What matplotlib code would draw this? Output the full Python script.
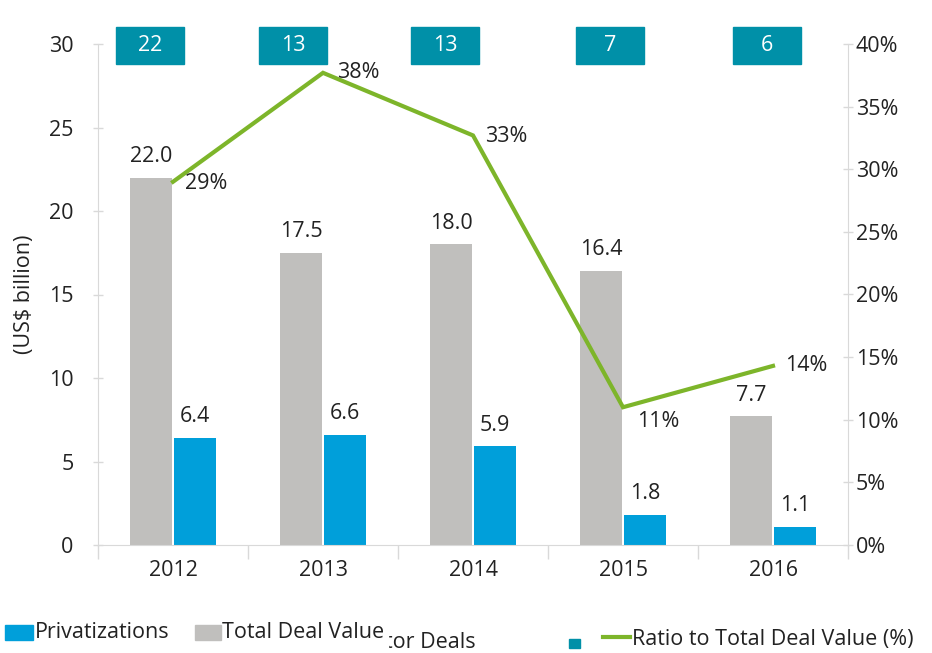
import matplotlib.pyplot as plt
from matplotlib.patches import Rectangle
from matplotlib.lines import Line2D

plt.rcParams["font.family"] = ["Open Sans", "DejaVu Sans"]

years = ["2012", "2013", "2014", "2015", "2016"]
total_value = [22.0, 17.5, 18.0, 16.4, 7.7]
privatizations = [6.4, 6.6, 5.9, 1.8, 1.1]
ratio_pct = [29.0, 37.7, 32.7, 11.0, 14.3]
deal_counts = [22, 13, 13, 7, 6]

GRAY = "#c0bfbd"
BLUE = "#009fda"
TEAL = "#0090a8"
GREEN = "#7db52a"
AXIS = "#d9d9d9"
TXT = "#222222"
FS = 15.5

fig = plt.figure(figsize=(9.32, 6.53), dpi=100)
ax = fig.add_axes([98 / 932, 1 - 545 / 653, 750 / 932, 501 / 653])
ax2 = ax.twinx()

x = list(range(len(years)))
w = 0.28
ax.bar([i - 0.145 for i in x], total_value, w, color=GRAY, zorder=2)
ax.bar([i + 0.145 for i in x], privatizations, w, color=BLUE, zorder=2)

for i in x:
	ax.text(i - 0.145, total_value[i] + 0.65, f"{total_value[i]:.1f}", ha="center", va="bottom",
			fontsize=FS, color=TXT)
	ax.text(i + 0.145, privatizations[i] + 0.65, f"{privatizations[i]:.1f}", ha="center", va="bottom",
			fontsize=FS, color=TXT)

ax.set_xlim(-0.5, 4.5)
ax.set_ylim(0, 30)
ax.set_yticks(range(0, 31, 5))
ax.set_xticks(x)
ax.set_xticklabels(years)
ax.set_xticks([i - 0.5 for i in range(6)], minor=True)
ax.tick_params(axis="x", which="major", length=0, pad=11, labelsize=FS, labelcolor=TXT)
ax.tick_params(axis="x", which="minor", length=10, direction="out", color=AXIS, width=1)
ax.tick_params(axis="y", length=7, direction="inout", color=AXIS, width=1, labelsize=FS,
			   labelcolor=TXT, pad=14)
ax.set_ylabel("(US$ billion)", fontsize=FS, color=TXT, labelpad=10)

ax2.plot(x, ratio_pct, color=GREEN, lw=3, solid_joinstyle="miter", zorder=3)
ax2.set_ylim(0, 40)
ax2.set_yticks(range(0, 41, 5))
ax2.set_yticklabels([f"{v}%" for v in range(0, 41, 5)])
ax2.tick_params(axis="y", length=7, direction="inout", color=AXIS, width=1, labelsize=FS,
				labelcolor=TXT, pad=2)
offsets = [(9, -1), (10, 0), (9, -1), (10, -10), (9, 0)]
for i in x:
	ax2.annotate(f"{ratio_pct[i]:.0f}%", (i, ratio_pct[i]), xytext=offsets[i], textcoords="offset points",
				 ha="left", va="center", fontsize=FS, color=TXT)

for a in (ax, ax2):
	for s in a.spines.values():
		s.set_visible(False)
	a.spines["left"].set_visible(a is ax)
	a.spines["right"].set_visible(a is ax2)
	a.spines["bottom"].set_visible(a is ax)
	for s in ("left", "right", "bottom"):
		a.spines[s].set_color(AXIS)

# deal count boxes along the top
box_x = [-0.153, 0.80, 1.813, 2.913, 3.96]
for bx, n in zip(box_x, deal_counts):
	ax.add_patch(Rectangle((bx - 0.227, 28.8), 0.453, 2.2, color=TEAL, clip_on=False, zorder=4))
	ax.text(bx, 29.9, str(n), ha="center", va="center", color="white", fontsize=FS, zorder=5)

# legend row at the bottom
def fx(px):
	return px / 932

def fy(py):
	return 1 - py / 653

fig.text(fx(476), fy(642), "No. of Private Sector Deals", ha="right", va="center", fontsize=FS,
		 color=TXT, zorder=1)
fig.patches.append(Rectangle((fx(185), fy(655)), fx(203), 30 / 653, transform=fig.transFigure,
							 color="white", zorder=2))
fig.patches.append(Rectangle((fx(5), fy(640)), fx(28), 15 / 653, transform=fig.transFigure,
							 color=BLUE, zorder=3))
fig.text(fx(35), fy(632), "Privatizations", ha="left", va="center", fontsize=FS, color=TXT, zorder=3)
fig.patches.append(Rectangle((fx(195), fy(640)), fx(26), 15 / 653, transform=fig.transFigure,
							 color=GRAY, zorder=3))
fig.text(fx(222), fy(632), "Total Deal Value", ha="left", va="center", fontsize=FS, color=TXT, zorder=3)
fig.patches.append(Rectangle((fx(569), fy(648)), fx(11), 9 / 653, transform=fig.transFigure,
							 color=TEAL, zorder=3))
fig.lines.append(Line2D([fx(603), fx(630)], [fy(637), fy(637)], transform=fig.transFigure,
						color=GREEN, lw=3))
fig.text(fx(632), fy(639), "Ratio to Total Deal Value (%)", ha="left", va="center", fontsize=FS,
		 color=TXT, zorder=3)

fig.savefig("out.png", dpi=100, facecolor="white")
